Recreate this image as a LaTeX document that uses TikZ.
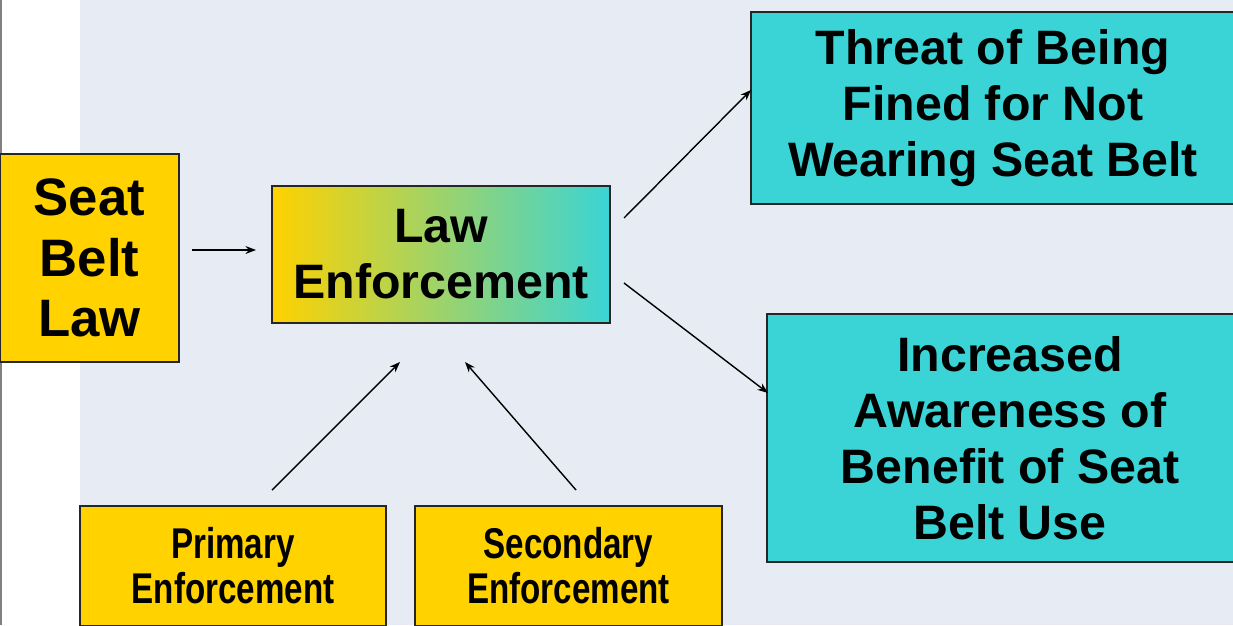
\documentclass[tikz,border=0pt]{standalone}
\usepackage{fontspec}
\setmainfont{Liberation Sans}
\newfontfamily\narrowfont[FakeStretch=0.77]{Liberation Sans}
\usetikzlibrary{arrows.meta}

\definecolor{beltyellow}{RGB}{255,210,0}
\definecolor{beltcyan}{RGB}{58,212,214}
\definecolor{slidebg}{RGB}{231,235,243}

\tikzset{
  box/.style={draw=black!85, line width=1pt, inner sep=0pt, align=center,
    font=\bfseries\fontsize{27.5}{31.8}\selectfont},
  ybox/.style={box, fill=beltyellow},
  cbox/.style={box, fill=beltcyan},
  nbox/.style={ybox, font=\narrowfont\bfseries\fontsize{24.5}{25.5}\selectfont},
  arr/.style={-{Stealth[length=6pt,width=4.5pt]}, line width=0.8pt},
}

\begin{document}
\begin{tikzpicture}[x=0.02cm, y=-0.02cm]

    %% Slide background
    \useasboundingbox (0,0) rectangle (1233,625);
    \clip (0,0) rectangle (1233,625);
    \fill[white] (0,0) rectangle (80,625);
    \fill[slidebg] (80,0) rectangle (1233,625);
    \draw[gray, line width=0.6pt] (1,0) -- (1,625);

    % Seat belt law
    \node[ybox, minimum width=3.58cm, minimum height=4.16cm,
      font=\bfseries\fontsize{30}{34.5}\selectfont] (seat) at (89.5,258) {Seat\\Belt\\Law};

    % Law enforcement
    \node[box, left color=beltyellow, right color=beltcyan,
      minimum width=6.76cm, minimum height=2.74cm] (law) at (441,254.5) {Law\\Enforcement};

    % Outcomes
    \node[cbox, minimum width=9.68cm, minimum height=3.84cm] (threat) at (993,108)
      {Threat of Being\\Fined for Not\\Wearing Seat Belt};
    \node[cbox, minimum width=9.72cm, minimum height=4.96cm] (aware) at (1010,438)
      {Increased\\Awareness of\\Benefit of Seat\\Belt Use};

    % Kinds of enforcement
    \node[nbox, minimum width=6.12cm, minimum height=2.4cm] (primary) at (233,566)
      {Primary\\Enforcement};
    \node[nbox, minimum width=6.14cm, minimum height=2.4cm] (secondary) at (568.5,566)
      {Secondary\\Enforcement};

    % Arrow ends
    \coordinate (seatout) at (192,250);
    \coordinate (lawin) at (256,250);
    \coordinate (lawup) at (624,218);
    \coordinate (threatin) at (751,90);
    \coordinate (lawdown) at (624,283);
    \coordinate (awarein) at (768,393);
    \coordinate (primout) at (272,490);
    \coordinate (primin) at (400,362);
    \coordinate (secout) at (576,490);
    \coordinate (secin) at (465,362);

    \draw[arr] (seatout) -- (lawin);
    \draw[arr] (lawup) -- (threatin);
    \draw[arr] (lawdown) -- (awarein);
    \draw[arr] (primout) -- (primin);
    \draw[arr] (secout) -- (secin);

\end{tikzpicture}
\end{document}
